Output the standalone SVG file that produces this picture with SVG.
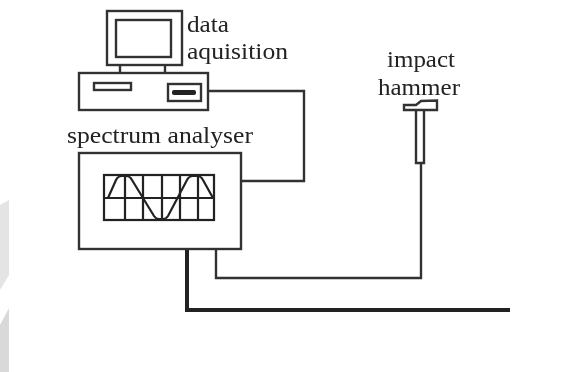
<svg xmlns="http://www.w3.org/2000/svg" width="570" height="372" viewBox="0 0 570 372">
<style>
.l{fill:none;stroke:#333;stroke-width:2.4}
.w{fill:none;stroke:#222;stroke-width:2.2}
.t{font-family:"Liberation Serif",serif;font-size:23px;fill:#222}
</style>
<defs><filter id="b" filterUnits="userSpaceOnUse" x="0" y="0" width="570" height="372"><feGaussianBlur stdDeviation="0.7"/></filter></defs>
<rect width="570" height="372" fill="#fff"/>
<g filter="url(#b)">
<path d="M0 205L9 200V275L0 290Z" fill="#e4e4e4"/>
<path d="M9 308L0 325V372H9Z" fill="#d9d9d9"/>
<g id="connectors">
<path class="l" d="M208 91H304V181H241"/>
<path class="l" d="M216 249V278H421V163"/>
<path d="M187 249V310H510" fill="none" stroke="#222" stroke-width="4"/>
</g>
<g id="monitor"><rect class="l" x="107" y="11" width="75" height="54"/><rect class="l" x="116" y="20" width="55" height="37"/><path class="l" d="M120 65V73M165 65V73"/></g>
<g id="computer"><rect class="l" x="79" y="73" width="129" height="37"/><rect class="l" x="94" y="83" width="37" height="7"/><rect class="l" x="168" y="84" width="33" height="17"/><rect x="172" y="90" width="24" height="5" rx="2" fill="#222"/></g>
<g id="data-label"><text class="t" x="187" y="32" textLength="42" lengthAdjust="spacingAndGlyphs">data</text><text class="t" x="187" y="59" textLength="101" lengthAdjust="spacingAndGlyphs">aquisition</text></g>
<g id="spectrum-analyser"><text class="t" x="67" y="143" textLength="186" lengthAdjust="spacingAndGlyphs">spectrum analyser</text><rect class="l" x="79" y="153" width="162" height="96"/><rect class="w" x="104" y="175" width="110" height="45"/><path class="w" d="M104 198H214M125 175V220M143 175V220M162 175V220M180 175V220M198 175V220"/><path class="w" d="M108 198L116 180Q118 176 122 176H126Q130 176 132 180L154 216Q156 219 159 219H163Q166 219 168 216L187 180Q189 176 193 176H197Q201 176 203 180L213 198"/></g>
<g id="impact-hammer"><text class="t" x="387" y="67" textLength="68" lengthAdjust="spacingAndGlyphs">impact</text><text class="t" x="378" y="95" textLength="82" lengthAdjust="spacingAndGlyphs">hammer</text><path class="l" d="M404 105V110H437V100.500L421 101L416 105Z"/><path class="l" d="M416 110V163H424V110"/></g>
</g>
</svg>
